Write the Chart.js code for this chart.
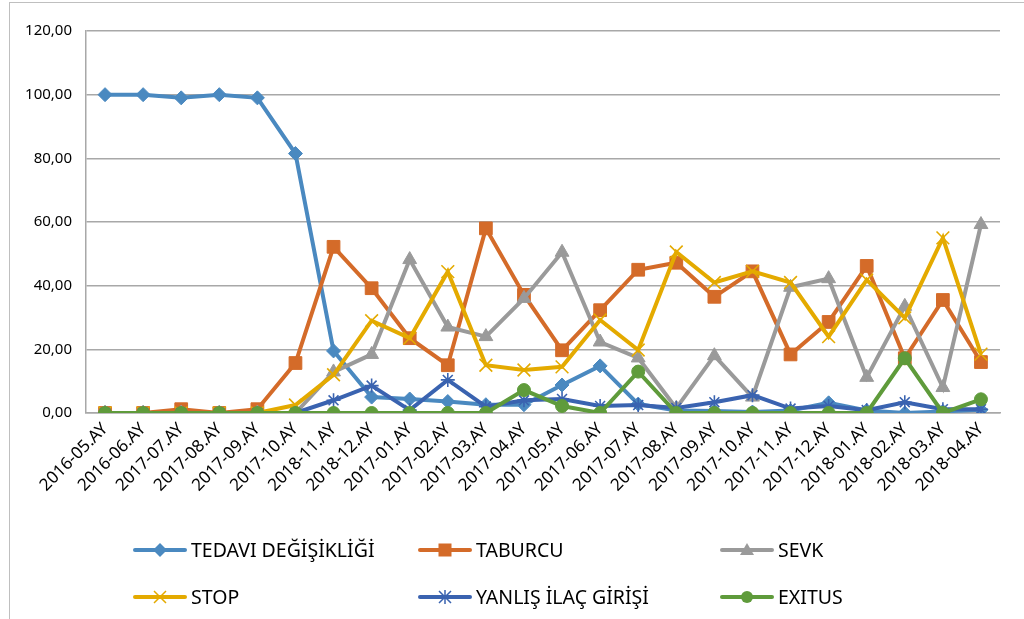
<!DOCTYPE html>
<html lang="tr">
<head>
<meta charset="UTF-8">
<title>Aylık Dağılım</title>
<script src="https://cdn.jsdelivr.net/npm/chart.js"></script>
<style>
  html, body { margin: 0; padding: 0; background: #fff; }
  #wrap { position: relative; width: 1024px; height: 619px; overflow: hidden; }
  #frame { position: absolute; left: 9px; top: 2px; width: 1100px; height: 700px; border: 1px solid #bfbfbf; }
  canvas { position: absolute; left: 0; top: 0; }
  .leg { position: absolute; display: flex; align-items: center; font-family: "Noto Sans", sans-serif; font-size: 19.5px; color: #000; }
  .leg svg { margin-right: 4px; }
</style>
</head>
<body>
<div id="wrap">
  <div id="frame"></div>
  <canvas id="chart" width="1024" height="619"></canvas>
  <div id="legend"></div>
</div>

<script>
// months as they appear on the category axis
const months = ["2016-05.AY", "2016-06.AY", "2017-07.AY", "2017-08.AY", "2017-09.AY", "2017-10.AY",
  "2018-11.AY", "2018-12.AY", "2017-01.AY", "2017-02.AY", "2017-03.AY", "2017-04.AY",
  "2017-05.AY", "2017-06.AY", "2017-07.AY", "2017-08.AY", "2017-09.AY", "2017-10.AY",
  "2017-11.AY", "2017-12.AY", "2018-01.AY", "2018-02.AY", "2018-03.AY", "2018-04.AY"];

const tedavi  = [100, 100, 99, 100, 99, 81.5, 19.5, 5, 4.4, 3.6, 2.6, 2.6, 8.8, 14.8, 2.8, 0.8, 0.6, 0.3, 0.8, 3.2, 0.8, 0, 0.5, 1];
const taburcu = [0, 0, 1.2, 0, 1.2, 15.7, 52.2, 39.2, 23.5, 15, 58, 37.1, 19.7, 32.3, 45, 47.2, 36.5, 44.5, 18.4, 28.6, 46.2, 17.2, 35.5, 16];
const sevk    = [0, 0, 0, 0, 0, 0, 12.9, 18.4, 48.2, 27, 24, 36, 50.5, 22.3, 17.3, 1.5, 18, 5, 39.5, 42.2, 11.2, 33.5, 8, 59.2];
const stop    = [0, 0, 0, 0, 0, 2.5, 12, 29, 23.5, 44.4, 15, 13.5, 14.5, 29.2, 19.8, 50.6, 41, 44.5, 41, 24, 41.8, 29.9, 55, 18.5];
const yanlis  = [0, 0, 0, 0, 0, 0, 4, 8.6, 0.9, 10.4, 2, 4, 4.4, 2.2, 2.5, 1.6, 3.4, 5.6, 1.4, 2.2, 0.9, 3.4, 1.2, 1.2];
const exitus  = [0, 0, 0, 0, 0, 0, 0, 0, 0, 0, 0, 7.2, 2.2, 0, 13, 0, 0, 0, 0, 0, 0, 17.2, 0, 4.3];

const yTicks = { min: 0, max: 120, step: 20 };

const series = [
  { label: "TEDAVI DEĞİŞİKLİĞİ", data: tedavi,  color: "#4a89c0", style: "rectRot",  radius: 7 },
  { label: "TABURCU",            data: taburcu, color: "#d46b29", style: "rect",     radius: 9 },
  { label: "SEVK",               data: sevk,    color: "#9a9a9a", style: "triangle", radius: 8 },
  { label: "STOP",               data: stop,    color: "#e4aa00", style: "crossRot", radius: 9 },
  { label: "YANLIŞ İLAÇ GİRİŞİ", data: yanlis,  color: "#3a63b0", style: "star",     radius: 7 },
  { label: "EXITUS",             data: exitus,  color: "#5f9b3b", style: "circle",   radius: 6.5 }
];

const gridColor = "#a8a8a8";

new Chart(document.getElementById("chart"), {
  type: "line",
  data: {
    labels: months,
    datasets: series.map((s, i) => ({
      label: s.label,
      data: s.data,
      borderColor: s.color,
      backgroundColor: s.color,
      borderWidth: 4,
      pointStyle: s.style,
      pointRadius: s.radius,
      pointBackgroundColor: s.color,
      pointBorderColor: s.color,
      pointBorderWidth: s.style === "crossRot" || s.style === "star" ? 1.6 : 1,
      tension: 0,
      // later series drawn on top, like the original
      order: series.length - i
    }))
  },
  options: {
    responsive: false,
    animation: false,
    layout: { padding: { top: 31, right: 24, left: 0, bottom: 0 } },
    plugins: { legend: { display: false }, tooltip: { enabled: false } },
    scales: {
      x: {
        offset: true,
        grid: { display: false, drawTicks: false },
        border: { display: true, color: gridColor, width: 1.5 },
        ticks: {
          autoSkip: false, minRotation: 45, maxRotation: 45, padding: 6,
          color: "#000", font: { family: "Noto Sans", size: 17 }
        },
        afterFit: (scale) => { scale.height = 206; }
      },
      y: {
        min: yTicks.min, max: yTicks.max,
        grid: { color: gridColor, lineWidth: 1.5, drawTicks: false },
        border: { display: true, color: gridColor, width: 1.5 },
        ticks: {
          stepSize: yTicks.step, padding: 14, color: "#000",
          font: { family: "Noto Sans", size: 15 },
          callback: (v) => v.toFixed(2).replace(".", ",")
        },
        afterFit: (scale) => { scale.width = 86; }
      }
    }
  }
});

// legend: 3 columns x 2 rows, built as html
function markerSvg(s) {
  const c = s.color, cx = 27, cy = 8;
  let m = "";
  if (s.style === "rectRot") m = `<polygon points="${cx},${cy-7} ${cx+7},${cy} ${cx},${cy+7} ${cx-7},${cy}" fill="${c}"/>`;
  if (s.style === "rect") m = `<rect x="${cx-6.5}" y="${cy-6.5}" width="13" height="13" fill="${c}"/>`;
  if (s.style === "triangle") m = `<polygon points="${cx},${cy-7} ${cx+7},${cy+5} ${cx-7},${cy+5}" fill="${c}"/>`;
  if (s.style === "crossRot") m = `<path d="M${cx-6} ${cy-6}L${cx+6} ${cy+6}M${cx+6} ${cy-6}L${cx-6} ${cy+6}" stroke="${c}" stroke-width="1.5"/>`;
  if (s.style === "star") m = `<path d="M${cx-6} ${cy-6}L${cx+6} ${cy+6}M${cx+6} ${cy-6}L${cx-6} ${cy+6}M${cx} ${cy-7}L${cx} ${cy+7}" stroke="${c}" stroke-width="1.5"/>`;
  if (s.style === "circle") m = `<circle cx="${cx}" cy="${cy}" r="6" fill="${c}"/>`;
  return `<svg width="54" height="16"><line x1="2" y1="${cy}" x2="52" y2="${cy}" stroke="${c}" stroke-width="4" stroke-linecap="round"/>${m}</svg>`;
}

const colX = [133, 418, 720];
const rowY = [550, 597];
const legend = document.getElementById("legend");
series.forEach((s, i) => {
  const d = document.createElement("div");
  d.className = "leg";
  d.style.left = colX[i % 3] + "px";
  d.style.top = (rowY[Math.floor(i / 3)] - 14) + "px";
  d.innerHTML = markerSvg(s) + "<span>" + s.label + "</span>";
  legend.appendChild(d);
});
</script>
</body>
</html>
